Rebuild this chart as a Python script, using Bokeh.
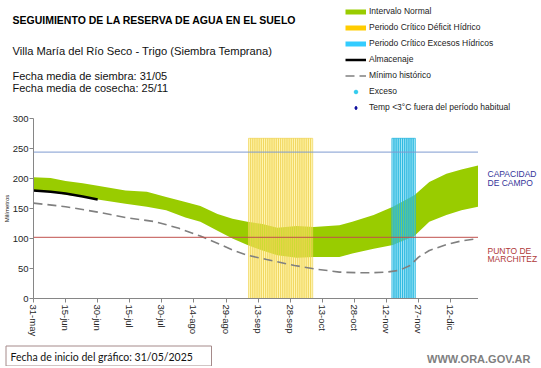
from bokeh.plotting import figure
from bokeh.models import Span, Legend, LegendItem, FixedTicker, Range1d
from bokeh.layouts import column, row
from bokeh.core.properties import value
from bokeh.embed import file_html
from bokeh.resources import INLINE

# ---------------- data (days after 31-may) ----------------
band_days = [0, 8, 15, 23, 30, 43, 53, 62, 71, 78, 86, 93, 100, 107, 114, 123, 131, 143, 149, 159, 168, 178, 185, 193, 200, 208]
band_upper = [202, 201, 196, 192, 188, 180, 178, 169, 161, 154, 141, 133, 128, 124, 118, 121, 119, 122, 128, 139, 153, 172, 194, 208, 215, 222]
band_lower = [180, 178, 173, 169, 165, 158, 153, 147, 135, 128, 113, 100, 89, 80, 72, 68, 69, 69, 75, 83, 89, 104, 128, 139, 147, 153]

min_days = [0, 15, 30, 43, 57, 68, 78, 84, 93, 100, 109, 122, 132, 143, 151, 159, 165, 171, 176, 180, 185, 193, 200, 208]
min_vals = [159, 153, 144, 135, 128, 117, 104, 95, 81, 72, 65, 55, 49, 44, 43, 43, 44, 47, 55, 69, 80, 90, 96, 100]

alm_days = [0, 8, 15, 23, 30]
alm_vals = [180, 178, 175, 170, 165]

deficit_days = list(range(101, 131))   # 9-sep .. 8-oct
excess_days = list(range(168, 179))    # 15-nov .. 25-nov
period_height = 267

capacidad_campo = 244
punto_marchitez = 102

tick_days = [0, 15, 30, 45, 60, 75, 90, 105, 120, 135, 150, 165, 180, 195]
tick_labels = ["31-may", "15-jun", "30-jun", "15-jul", "30-jul", "14-ago", "29-ago",
               "13-sep", "28-sep", "13-oct", "28-oct", "12-nov", "27-nov", "12-dic"]
y_ticks = [0, 50, 100, 150, 200, 250, 300]

legend_labels = ["Intervalo Normal", "Periodo Crítico Déficit Hídrico",
                 "Periodo Crítico Excesos Hídricos", "Almacenaje", "Mínimo histórico",
                 "Exceso", "Temp <3°C fuera del período habitual"]

FONT = "Liberation Sans"
W, H = 539, 366
HEAD_H = 112
FOOT_H = 23
MID_H = H - HEAD_H - FOOT_H
CHART_W = 478
TOP_B = 6
FRAME_H = 180
BOT_B = MID_H - TOP_B - FRAME_H
XMAX, YMAX = 208, 300


def text_panel(w, h, top=0, bottom=0):
    # y runs downward in pixels from the top of the canvas
    f = figure(width=w, height=h, x_range=Range1d(0, w), y_range=Range1d(h - bottom, top),
               output_backend="svg", toolbar_location=None,
               x_axis_location=None, y_axis_location=None,
               min_border=0, min_border_left=0, min_border_right=0,
               min_border_top=top, min_border_bottom=bottom)
    f.outline_line_color = None
    f.grid.visible = False
    return f


def put_text(f, x, y, txt, size, color="#111111", style="normal", align="left",
             baseline="alphabetic", font=FONT):
    f.text(x=[x], y=[y], text=[txt], text_font=value(font), text_font_size=value(size),
           text_color=color, text_font_style=style, text_align=align, text_baseline=baseline)


# ---------------- header ----------------
head = text_panel(W, HEAD_H)
put_text(head, 12, 19, "SEGUIMIENTO DE LA RESERVA DE AGUA  EN EL SUELO", "10.5px", color="black", style="bold")
put_text(head, 12, 50, "Villa María del Río Seco - Trigo (Siembra Temprana)", "11.2px")
put_text(head, 12, 75, "Fecha media de siembra: 31/05", "11px")
put_text(head, 12, 87, "Fecha media de cosecha: 25/11", "11px")

# legend proxies, placed outside the visible range of the header panel
gx, gy = [-60, -50], [-10, -10]
lg = [
    head.line(gx, gy, line_color="#99cc00", line_width=5),
    head.line(gx, gy, line_color="#ffcc00", line_width=5),
    head.line(gx, gy, line_color="#33ccff", line_width=5),
    head.line(gx, gy, line_color="black", line_width=2.5),
    head.line(gx, gy, line_color="#808080", line_width=1.6, line_dash="9 5"),
    head.scatter([-50], [-10], marker="circle", size=3, fill_color="#33ccee", line_color="#33ccee"),
    head.scatter([-50], [-10], marker="diamond", size=6, fill_color="#000099", line_color="#000099"),
]
legend = Legend(items=[LegendItem(label=l, renderers=[r]) for l, r in zip(legend_labels, lg)],
                location=(345, -1), orientation="vertical")
legend.label_text_font = FONT
legend.label_text_font_size = "8.5px"
legend.label_text_color = "#222222"
legend.glyph_width = 21
legend.glyph_height = 9
legend.label_height = 12
legend.spacing = 4
legend.padding = 0
legend.margin = 0
legend.label_standoff = 3
legend.border_line_color = None
legend.background_fill_alpha = 0
head.add_layout(legend)

# ---------------- chart ----------------
p = figure(width=CHART_W, height=MID_H, x_range=(0, XMAX), y_range=(0, YMAX),
           output_backend="svg", toolbar_location=None,
           min_border_left=33, min_border_right=0, min_border_top=TOP_B,
           min_border_bottom=BOT_B)
p.outline_line_color = None
p.grid.visible = False

p.varea(x=band_days, y1=band_lower, y2=band_upper, fill_color="#99cc00")
p.vbar(x=deficit_days, top=period_height, bottom=0, width=1,
       fill_color="#ffee66", fill_alpha=0.5, line_color="#eed050", line_alpha=0.8, line_width=0.8)
p.vbar(x=excess_days, top=period_height, bottom=0, width=1,
       fill_color="#44ccee", fill_alpha=0.5, line_color="#22b4dd", line_alpha=0.9, line_width=0.8)
p.line(min_days, min_vals, line_color="#808080", line_width=1.6, line_dash="9 5")
p.line(alm_days, alm_vals, line_color="black", line_width=2.5)
p.add_layout(Span(location=capacidad_campo, dimension="width", line_color="#7f9bd1", line_width=1))
p.add_layout(Span(location=punto_marchitez, dimension="width", line_color="#c0504d", line_width=1))

xa = p.xaxis[0]
ya = p.yaxis[0]
for ax in (xa, ya):
    ax.axis_line_color = "#868686"
    ax.major_tick_line_color = "#868686"
    ax.major_tick_out = 4
    ax.major_tick_in = 0
    ax.minor_tick_out = 0
    ax.minor_tick_in = 0
    ax.major_label_text_font = FONT
    ax.major_label_text_color = "#262626"
xa.major_label_standoff = 2
ya.major_label_standoff = 1
xa.ticker = FixedTicker(ticks=tick_days)
xa.major_label_overrides = {d: lab for d, lab in zip(tick_days, tick_labels)}
xa.major_label_orientation = "vertical"
xa.major_label_text_font_size = "9.5px"
ya.ticker = FixedTicker(ticks=y_ticks)
ya.major_label_text_font_size = "9.5px"
ya.axis_label = "Milímetros"
ya.axis_label_text_font = FONT
ya.axis_label_text_font_size = "6px"
ya.axis_label_text_font_style = "normal"
ya.axis_label_text_color = "#222222"
ya.axis_label_standoff = 0

# ---------------- right labels (frame aligned with the chart frame) ----------------
side = text_panel(W - CHART_W, MID_H, top=TOP_B, bottom=BOT_B)
put_text(side, 9, 61.3, "CAPACIDAD", "8.5px", color="#333399")
put_text(side, 9, 70, "DE  CAMPO", "8.5px", color="#333399")
put_text(side, 9, 138, "PUNTO  DE", "8.5px", color="#b03a3a")
put_text(side, 9, 146.5, "MARCHITEZ", "8.5px", color="#b03a3a")

# ---------------- footer ----------------
foot = text_panel(W, FOOT_H)
foot.quad(left=[5.5], right=[211], top=[2.5], bottom=[22.5], fill_color="white",
          line_color="#a58a8a", line_width=1)
put_text(foot, 10, 13, "Fecha de inicio del gráfico:   31/05/2025", "10.5px", baseline="middle", font="Lato")
put_text(foot, 530, 15, "WWW.ORA.GOV.AR", "11px", color="#7f7f7f", style="bold", align="right",
         baseline="middle")

layout = column(head, row(p, side, spacing=0), foot, spacing=0)
open("out.html", "w").write(file_html(layout, INLINE))
